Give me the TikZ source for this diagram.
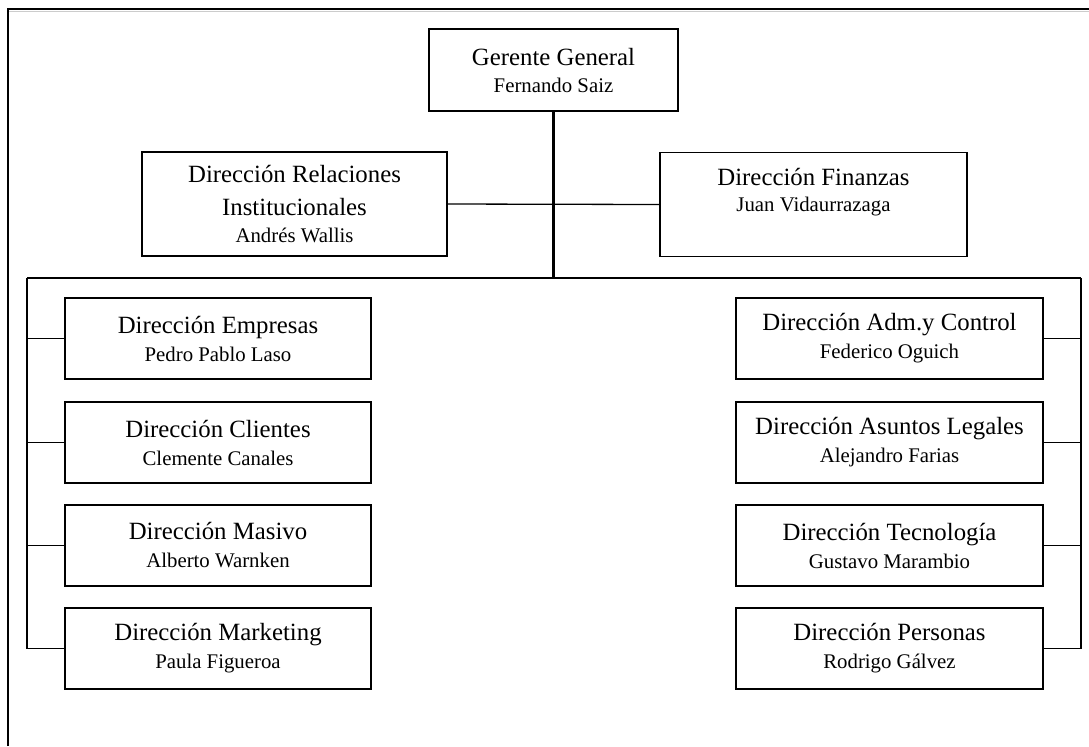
\documentclass[tikz,border=0pt]{standalone}
\usepackage{fontspec}
\setmainfont{Liberation Serif}
\usetikzlibrary{calc}
\tikzset{unit/.style = {draw, line width=0.7pt, inner sep=0, align=center}}
\tikzset{bigunit/.style = {unit, minimum width=152.5pt, minimum height=52pt}}
\tikzset{smallunit/.style = {unit, minimum width=153pt, minimum height=40.5pt}}
\tikzset{link/.style = {line width=0.65pt}}
\tikzset{trunk/.style = {line width=1.1pt}}
\newcommand{\cargo}[1]{{\fontsize{12.4}{16.5}\selectfont #1}}
\newcommand{\persona}[1]{{\fontsize{10.4}{13.5}\selectfont #1}}

\begin{document}
\begin{tikzpicture}[x=0.5pt, y=-0.5pt]
    \useasboundingbox (0,0) rectangle (1089,746);

    % marco
    \draw[gray!40, line width=0.5pt] (9,11) -- (1089,11);
    \draw[line width=1.3pt] (8,746) -- (8,9) -- (1089,9);

    \node[unit, minimum width=124.5pt, minimum height=41pt] (gerente) at (553.5,70)
        {\cargo{Gerente General}\\[1.5pt]\persona{Fernando Saiz}};
    \node[bigunit] (relaciones) at (294.5,204)
        {\cargo{Dirección Relaciones}\\[4.5pt]\cargo{Institucionales}\\[1.5pt]\persona{Andrés Wallis}};
    \node[bigunit, minimum width=153.5pt] (finanzas) at (813.5,204.5)
        {\cargo{Dirección Finanzas}\\[1pt]\persona{Juan Vidaurrazaga}\\[3pt]\mbox{}};

    % columna izquierda
    \node[smallunit] (empresas) at (218,338.5) {\cargo{Dirección Empresas}\\[2pt]\persona{Pedro Pablo Laso}};
    \node[smallunit] (clientes) at (218,442.5) {\cargo{Dirección Clientes}\\[2pt]\persona{Clemente Canales}};
    \node[smallunit] (masivo) at (218,545.5) {\cargo{Dirección Masivo}\\[2pt]\persona{Alberto Warnken}};
    \node[smallunit] (marketing) at (218,648.5) {\cargo{Dirección Marketing}\\[2pt]\persona{Paula Figueroa}};

    % columna derecha
    \node[smallunit, minimum width=153.5pt] (control) at (889.5,338.5) {\cargo{Dirección Adm.y Control}\\[2pt]\persona{Federico Oguich}};
    \node[smallunit, minimum width=153.5pt] (legales) at (889.5,442.5) {\cargo{Dirección Asuntos Legales}\\[2pt]\persona{Alejandro Farias}};
    \node[smallunit, minimum width=153.5pt] (tecnologia) at (889.5,545.5) {\cargo{Dirección Tecnología}\\[2pt]\persona{Gustavo Marambio}};
    \node[smallunit, minimum width=153.5pt] (personas) at (889.5,648.5) {\cargo{Dirección Personas}\\[2pt]\persona{Rodrigo Gálvez}};

    \coordinate (busL) at (27,278);
    \coordinate (busR) at (1081,278);

    % conexiones
    \draw[trunk] (gerente.south) -- (gerente.south |- busL);
    \draw[trunk] (busL) -- (busR);
    \draw[link] (relaciones.east) -- (finanzas.west);
    \draw[link] (busL) -- (busL |- marketing.west);
    \draw[link] (busR) -- (busR |- personas.east);
    \foreach \n in {empresas, clientes, masivo, marketing}
        \draw[link] (\n.west) -- (busL |- \n.west);
    \foreach \n in {control, legales, tecnologia, personas}
        \draw[link] (\n.east) -- (busR |- \n.east);
\end{tikzpicture}
\end{document}
